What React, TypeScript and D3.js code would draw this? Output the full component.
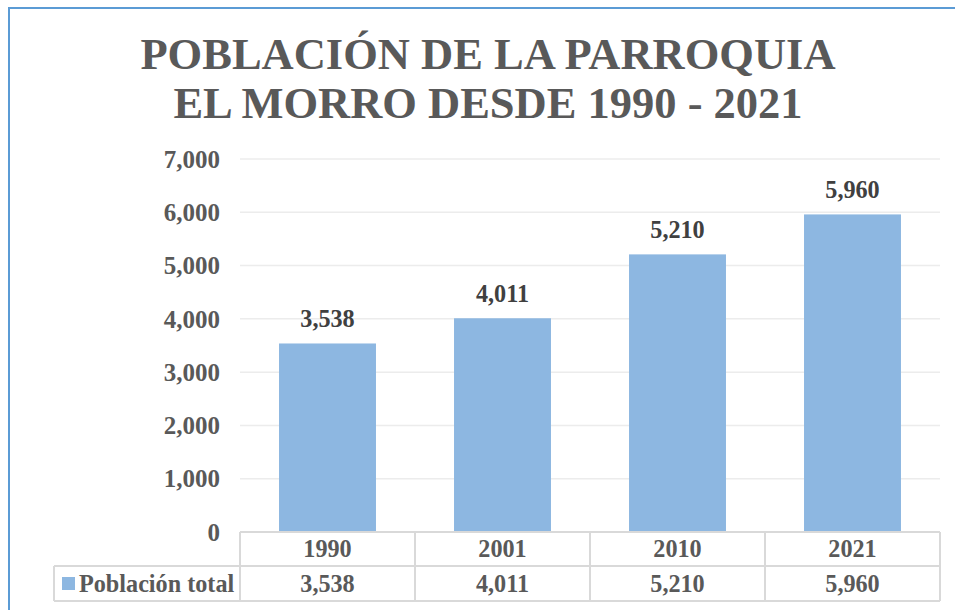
import React from "react";
import * as d3 from "d3";

const categories = ["1990", "2001", "2010", "2021"];
const values = [3538, 4011, 5210, 5960];
const yTicks = [0, 1000, 2000, 3000, 4000, 5000, 6000, 7000];
const seriesName = "Población total";
const titleLines = ["POBLACIÓN DE LA PARROQUIA", "EL MORRO DESDE 1990 - 2021"];

const W = 955;
const H = 610;
const FONT = "'Liberation Serif', 'Times New Roman', serif";
const TEXT = "#595959";

export default function App() {
  const x = d3.scaleBand<string>().domain(categories).range([240, 940]).paddingInner(0.446).paddingOuter(0.223);
  const xb = d3.scaleBand<string>().domain(categories).range([240, 940]);
  const y = d3.scaleLinear().domain([0, 7000]).range([532, 159]);
  const fmt = d3.format(",");
  const rowTop = 532;
  const rowMid = 566;
  const rowBot = 601;
  const grid = "#d9d9d9";
  const fs = 24.2;

  return (
    <svg width={W} height={H} style={{ position: "absolute", left: 0, top: 0, background: "#fff" }}>
      <rect x={0} y={0} width={W} height={H} fill="#fff" />
      <line x1={9} x2={9} y1={7} y2={H} stroke="#5b9bd5" strokeWidth={2} />
      <line x1={8} x2={W} y1={8} y2={8} stroke="#5b9bd5" strokeWidth={2} />
      {titleLines.map((t, i) => (
        <text key={t} x={488} y={69 + i * 49} textAnchor="middle" fontFamily={FONT} fontWeight="bold" fontSize={44.5} fill={TEXT}>
          {t}
        </text>
      ))}
      {yTicks.map((v) => (
        <g key={v}>
          {v > 0 && <line x1={240} x2={940} y1={y(v)} y2={y(v)} stroke="#ececec" strokeWidth={1.5} />}
          <text x={220} y={y(v)} dy="0.35em" textAnchor="end" fontFamily={FONT} fontWeight="bold" fontSize={25} fill={TEXT}>
            {fmt(v)}
          </text>
        </g>
      ))}
      {categories.map((c, i) => (
        <g key={c}>
          <rect x={x(c)} y={y(values[i])} width={x.bandwidth()} height={y(0) - y(values[i])} fill="#8db7e1" />
          <text x={x(c)! + x.bandwidth() / 2} y={y(values[i]) - 16} textAnchor="middle" fontFamily={FONT} fontWeight="bold" fontSize={fs} fill="#404040">
            {fmt(values[i])}
          </text>
        </g>
      ))}
      <g stroke={grid} strokeWidth={2} fill="none">
        <line x1={240} x2={940} y1={rowTop} y2={rowTop} />
        <line x1={54} x2={940} y1={rowMid} y2={rowMid} />
        <line x1={54} x2={940} y1={rowBot} y2={rowBot} />
        <line x1={54} x2={54} y1={rowMid} y2={rowBot} />
        {categories.map((c) => (
          <line key={c} x1={xb(c)} x2={xb(c)} y1={rowTop} y2={rowBot} />
        ))}
        <line x1={940} x2={940} y1={rowTop} y2={rowBot} />
      </g>
      {categories.map((c, i) => (
        <g key={c} fontFamily={FONT} fontWeight="bold" fontSize={fs} fill={TEXT} textAnchor="middle">
          <text x={xb(c)! + xb.bandwidth() / 2} y={(rowTop + rowMid) / 2} dy="0.35em">{c}</text>
          <text x={xb(c)! + xb.bandwidth() / 2} y={(rowMid + rowBot) / 2} dy="0.35em">{fmt(values[i])}</text>
        </g>
      ))}
      <rect x={62} y={577} width={13} height={13} fill="#8db7e1" />
      <text x={79} y={(rowMid + rowBot) / 2} dy="0.35em" fontFamily={FONT} fontWeight="bold" fontSize={fs} fill={TEXT}>
        {seriesName}
      </text>
    </svg>
  );
}
